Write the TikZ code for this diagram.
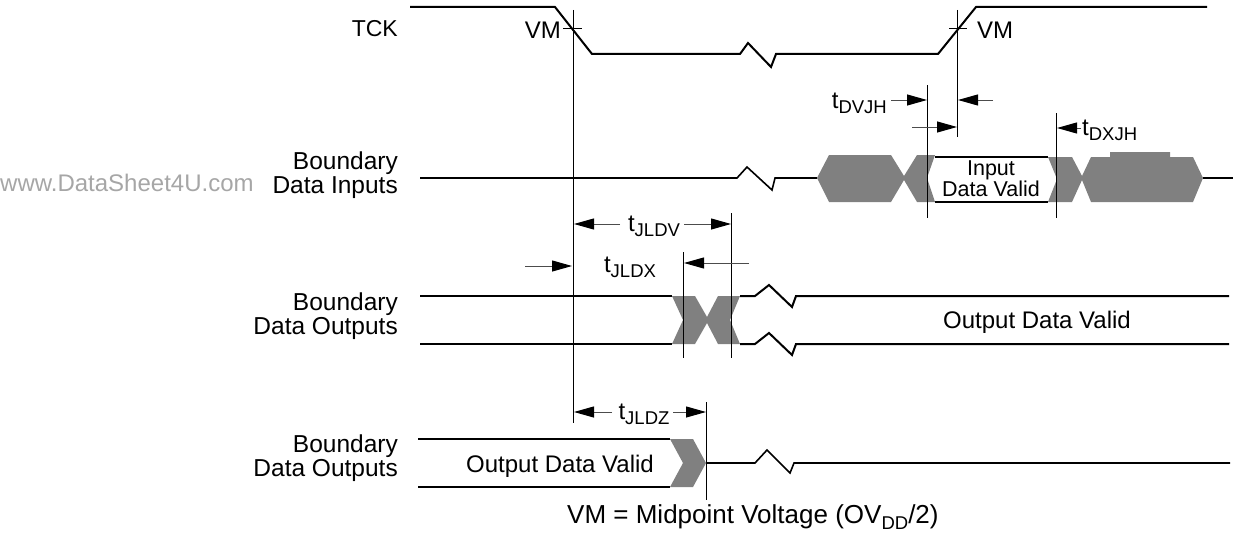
\documentclass[tikz,border=0pt]{standalone}
\usepackage{fontspec}
\setmainfont{Liberation Sans}
\usetikzlibrary{arrows.meta}
\newcommand\subs[1]{\raisebox{-0.4ex}{\fontsize{18.5}{18.5}\selectfont #1}}
\begin{document}
\begin{tikzpicture}[x=1pt,y=-1pt,
  sig/.style={line width=2pt,line join=miter},
  sigb/.style={line width=1.6pt,line join=miter},
  vline/.style={line width=1pt,black},
  dimarrow/.style={line width=1pt,black!70,-{Triangle[length=20pt,width=11pt,color=black]}},
  hatch/.style={fill=black!50,draw=none},
  lbl/.style={font=\fontsize{24}{24}\selectfont,inner sep=0pt},
  rowlbl/.style={font=\fontsize{24.5}{24}\selectfont,inner sep=0pt,anchor=east,align=right},
  small/.style={font=\fontsize{21.5}{17.5}\selectfont,inner sep=0pt}]
\useasboundingbox (0,0) rectangle (1233,535);

% ---------- labels ----------
\node[lbl,anchor=east,font=\fontsize{23}{24}\selectfont] (tck) at (398,29) {TCK};
\node[rowlbl] (bdi) at (398,175) {Boundary\\Data Inputs};
\node[rowlbl] (bdo1) at (398,316) {Boundary\\Data Outputs};
\node[rowlbl] (bdo2) at (398,458) {Boundary\\Data Outputs};
\node[lbl,anchor=west,text=black!35] (wm) at (0,183) {www.DataSheet4U.com};

% ---------- TCK ----------
\draw[sig] (410,7) -- (555,7) -- (592,54) -- (740,54) -- (748,43) -- (771,67) -- (776,54) -- (938,54) -- (976,7) -- (1207,7);
\coordinate (vmA) at (573,10);
\coordinate (vmAb) at (573,423);
\draw[vline] (vmA) -- (vmAb);
\coordinate (tkA1) at (563,29); \coordinate (tkA2) at (582,29);
\draw[vline] (tkA1) -- (tkA2);
\node[lbl,anchor=east] (vm1) at (561,30) {VM};
\coordinate (vmB) at (957,10);
\coordinate (vmBb) at (957,137);
\draw[vline] (vmB) -- (vmBb);
\coordinate (tkB1) at (949,29); \coordinate (tkB2) at (967,29);
\draw[vline] (tkB1) -- (tkB2);
\node[lbl,anchor=west] (vm2) at (977,30) {VM};

% ---------- Boundary Data Inputs ----------
\draw[sigb] (420,178) -- (737,178) -- (747,167) -- (772,190) -- (775,178) -- (817,178);
\fill[hatch] (817,178) -- (829,155) -- (891,155) -- (904,176) -- (917,155) -- (935,155) -- (927,178) -- (935,202) -- (917,202) -- (904,180) -- (891,202) -- (829,202) -- cycle;
\draw[sig] (935,157) -- (1048,157);
\draw[sig] (935,202) -- (1048,202);
\node[small,align=center] (idv) at (991,179) {Input\\Data Valid};
\fill[hatch] (1048,157) -- (1072,157) -- (1082,176) -- (1091,157) -- (1110,157) -- (1110,152) -- (1170,152) -- (1170,157) -- (1193,157) -- (1203,178) -- (1193,202) -- (1091,202) -- (1082,180) -- (1072,202) -- (1048,202) -- (1057,179) -- cycle;
\draw[sigb] (1203,178) -- (1233,178);

\coordinate (dvT) at (927,85); \coordinate (dvB) at (927,218);
\draw[vline] (dvT) -- (dvB);
\coordinate (dxT) at (1056,113); \coordinate (dxB) at (1056,218);
\draw[vline] (dxT) -- (dxB);

\node[lbl,anchor=east] (tdvjh) at (887,103) {t\subs{DVJH}};
\coordinate (a1s) at (891,100); \coordinate (a1e) at (927,100);
\draw[dimarrow] (a1s) -- (a1e);
\coordinate (a2s) at (993,100); \coordinate (a2e) at (958,100);
\draw[dimarrow] (a2s) -- (a2e);
\coordinate (a3s) at (912,127); \coordinate (a3e) at (957,127);
\draw[dimarrow] (a3s) -- (a3e);
\coordinate (a4s) at (1081,128); \coordinate (a4e) at (1057,128);
\draw[dimarrow] (a4s) -- (a4e);
\node[lbl,anchor=west] (tdxjh) at (1082,130) {t\subs{DXJH}};

% ---------- Boundary Data Outputs (1) ----------
\draw[sig] (420,296) -- (672,296);
\draw[sig] (420,344) -- (672,344);
\fill[hatch] (672,296) -- (695,296) -- (707,317) -- (718,296) -- (740,296) -- (730,320) -- (740,344) -- (718,344) -- (707,323) -- (695,344) -- (672,344) -- (683,320) -- cycle;
\draw[sig] (740,296) -- (755,296) -- (769,285) -- (792,307) -- (796,296) -- (1229,296);
\draw[sig] (740,344) -- (755,344) -- (769,333) -- (792,355) -- (796,344) -- (1229,344);
\node[lbl] (odv1) at (1037,322) {Output Data Valid};

\coordinate (ldvT) at (731,213); \coordinate (ldvB) at (731,358);
\draw[vline] (ldvT) -- (ldvB);
\coordinate (ldxT) at (683,252); \coordinate (ldxB) at (683,358);
\draw[vline] (ldxT) -- (ldxB);

\node[lbl] (tjldv) at (654,226) {t\subs{JLDV}};
\coordinate (b1s) at (620,224); \coordinate (b1e) at (574,224);
\draw[dimarrow] (b1s) -- (b1e);
\coordinate (b2s) at (684,224); \coordinate (b2e) at (731,224);
\draw[dimarrow] (b2s) -- (b2e);
\node[lbl] (tjldx) at (630,267) {t\subs{JLDX}};
\coordinate (c1s) at (525,266); \coordinate (c1e) at (572,266);
\draw[dimarrow] (c1s) -- (c1e);
\coordinate (c2s) at (749,263); \coordinate (c2e) at (684,263);
\draw[dimarrow] (c2s) -- (c2e);

% ---------- Boundary Data Outputs (2) ----------
\draw[sig] (418,439) -- (670,439);
\draw[sig] (418,487) -- (670,487);
\fill[hatch] (670,439) -- (693,439) -- (706,463) -- (693,487) -- (670,487) -- (683,463) -- cycle;
\draw[sigb] (706,463) -- (755,463) -- (767,450) -- (790,473) -- (794,463) -- (1230,463);
\node[lbl] (odv2) at (560,466) {Output Data Valid};

\coordinate (ldzT) at (706,402); \coordinate (ldzB) at (706,500);
\draw[vline] (ldzT) -- (ldzB);
\node[lbl] (tjldz) at (644,414) {t\subs{JLDZ}};
\coordinate (d1s) at (612,412); \coordinate (d1e) at (574,412);
\draw[dimarrow] (d1s) -- (d1e);
\coordinate (d2s) at (673,412); \coordinate (d2e) at (706,412);
\draw[dimarrow] (d2s) -- (d2e);

\node[lbl,anchor=west,font=\fontsize{26}{26}\selectfont] (cap) at (567,517) {VM = Midpoint Voltage (OV\subs{DD}/2)};
\end{tikzpicture}
\end{document}
